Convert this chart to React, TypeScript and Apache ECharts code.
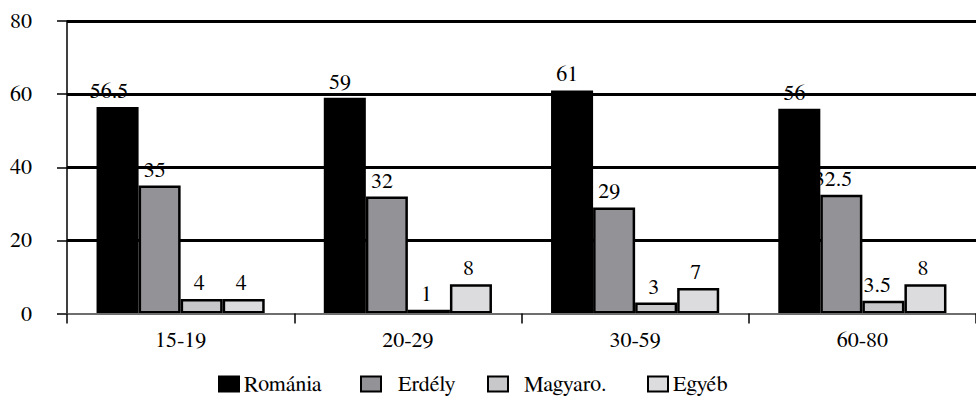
import React, { useEffect, useRef } from "react";
import * as echarts from "echarts";

const categories = ["15-19", "20-29", "30-59", "60-80"];
const seriesNames = ["Románia", "Erdély", "Magyaro.", "Egyéb"];
const romania = [56.5, 59, 61, 56];
const erdely = [35, 32, 29, 32.5];
const magyaro = [4, 1, 3, 3.5];
const egyeb = [4, 8, 7, 8];
const yTicks = { min: 0, max: 80, interval: 20 };

const colors = ["#000000", "#939397", "#c8c8ca", "#dcdcde"];
const FONT = "FreeSerif";
const legendLeft = [218, 360, 487, 647];
const legendTextPad = [0, 12, 11, 0];

export default function App() {
  const ref = useRef<HTMLDivElement>(null);
  useEffect(() => {
    if (!ref.current) return;
    const chart = echarts.init(ref.current, null, { renderer: "svg" });
    const data = [romania, erdely, magyaro, egyeb];
    const base = { fontFamily: FONT, fontSize: 22, color: "#000" };
    chart.setOption({
      animation: false,
      backgroundColor: "#ffffff",
      textStyle: { fontFamily: FONT },
      grid: { left: 67, top: 21, width: 916, height: 292.5, containLabel: false },
      xAxis: {
        type: "category",
        data: categories,
        boundaryGap: true,
        axisLine: { show: true, lineStyle: { color: "#6e6e6e", width: 2 } },
        axisTick: { show: true, length: 10, lineStyle: { color: "#000", width: 1.5 } },
        axisLabel: { ...base, margin: 15 },
        z: 10,
      },
      yAxis: {
        type: "value",
        min: yTicks.min,
        max: yTicks.max,
        interval: yTicks.interval,
        axisLine: { show: true, lineStyle: { color: "#000", width: 1.5 } },
        axisTick: { show: true, length: 10, lineStyle: { color: "#000", width: 1.5 } },
        axisLabel: { ...base, margin: 35 },
        splitLine: {
          show: true,
          lineStyle: { color: ["transparent", "#000", "#000", "#000", "#000"], width: 3 },
        },
      },
      legend: seriesNames.map((name, i) => ({
        left: legendLeft[i],
        top: 373,
        padding: 0,
        icon: "rect",
        itemWidth: 20,
        itemHeight: 15,
        selectedMode: false,
        data: [name],
        formatter: (n: string) => "{t|" + n + "}",
        textStyle: {
          ...base,
          rich: { t: { ...base, padding: [0, 0, 0, legendTextPad[i]] } },
        },
      })),
      series: seriesNames.map((name, i) => ({
        name,
        type: "bar",
        data: data[i],
        barGap: "0%",
        barCategoryGap: "26%",
        z: 6 - i,
        itemStyle: { color: colors[i], borderColor: "#000", borderWidth: 2.5 },
        label: {
          show: true,
          position: "top",
          distance: 5,
          ...base,
        },
        labelLayout: (p: any) => ({ dx: -0.22 * p.labelRect.width }),
      })),
    });
    return () => chart.dispose();
  }, []);
  return (
    <div
      ref={ref}
      style={{ position: "fixed", left: 0, top: 0, width: 976, height: 405, background: "#fff" }}
    />
  );
}
